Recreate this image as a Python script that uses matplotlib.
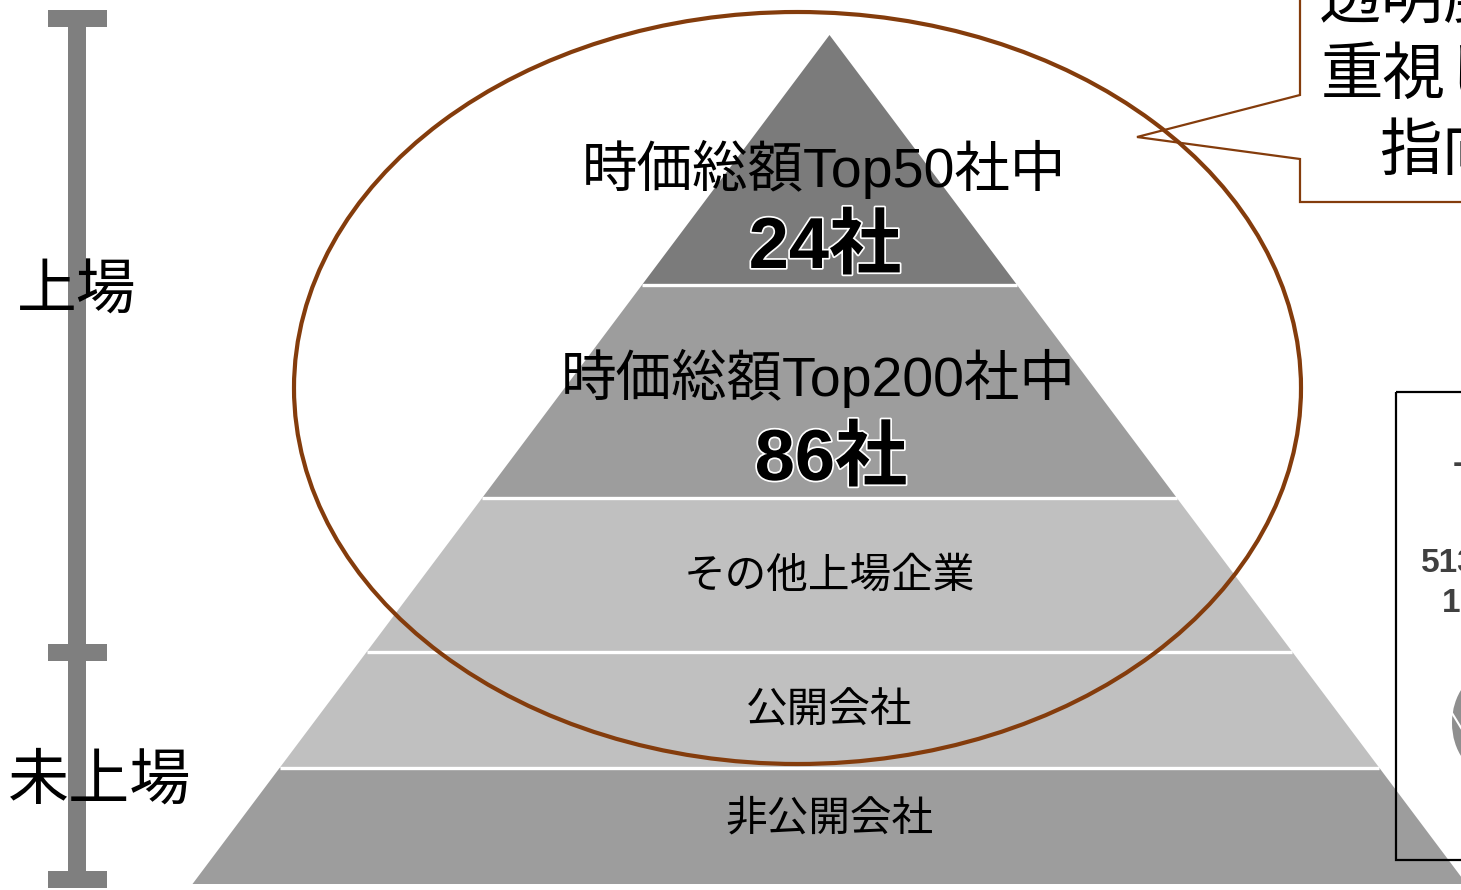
import matplotlib
matplotlib.use("Agg")
import matplotlib.pyplot as plt
from matplotlib.patches import Polygon, Rectangle, Ellipse, FancyBboxPatch
import matplotlib.patheffects as pe

# ---------------- data ----------------
layer_labels = ["時価総額Top50社中", "時価総額Top200社中", "その他上場企業", "公開会社", "非公開会社"]
layer_counts = ["24社", "86社", "", "", ""]
# layer boundaries as fraction of pyramid height (apex = 0, base = 1)
layer_bounds = [0.0, 0.2945, 0.5453, 0.7267, 0.8634, 1.0]
layer_colors = ["#7b7b7b", "#9d9d9d", "#c0c0c0", "#c0c0c0", "#9d9d9d"]
side_labels = ["上場", "未上場"]
callout_lines = ["透明度を", "重視した", "指向"]
box_lines = ["上場", "513", "1"]

# ---------------- figure ----------------
W, H = 1461, 890
fig = plt.figure(figsize=(W / 100, H / 100), dpi=100)
ax = fig.add_axes([0, 0, 1, 1])
ax.set_xlim(0, W)
ax.set_ylim(H, 0)
ax.axis("off")

MIX = ["Liberation Sans", "Noto Sans CJK JP"]
CJK = ["Noto Sans CJK JP", "DejaVu Sans"]

# pyramid geometry
apex_x, apex_y = 829.5, 35.0
base_y = 884.0
half_base = 637.0
ph = base_y - apex_y

def xy(f, side):
    y = apex_y + f * ph
    return apex_x + side * half_base * f, y

for i in range(len(layer_labels)):
    f0, f1 = layer_bounds[i], layer_bounds[i + 1]
    pts = [xy(f0, -1), xy(f0, 1), xy(f1, 1), xy(f1, -1)]
    ax.add_patch(Polygon(pts, closed=True, facecolor=layer_colors[i],
                         edgecolor="none", zorder=2))
# white separators
for f in layer_bounds[1:-1]:
    (xl, y), (xr, _) = xy(f, -1), xy(f, 1)
    ax.plot([xl, xr], [y, y], color="white", lw=2.4, zorder=3,
            solid_capstyle="butt")

# pyramid texts
label_pos = [(824, 169), (818, 378), (829, 577), (829, 712), (829, 820)]
label_size = [40, 40, 30, 30, 30]
for (x, y), lab, s in zip(label_pos, layer_labels, label_size):
    ax.text(x, y, lab, ha="center", va="center", fontsize=s,
            family=MIX, color="black", zorder=6)
count_pos = [(825, 249), (831, 461)]
for (x, y), c in zip(count_pos, [c for c in layer_counts if c]):
    ax.text(x, y, c, ha="center", va="center", fontsize=52,
            family=MIX, weight="bold", color="black", zorder=6,
            path_effects=[pe.withStroke(linewidth=2.5, foreground="white")])

# left scale bar
bar_col = "#7f7f7f"
ax.add_patch(Rectangle((68, 10), 18, 878, facecolor=bar_col, edgecolor="none", zorder=2))
for yc in (10, 644, 871):
    ax.add_patch(Rectangle((48, yc), 59, 17, facecolor=bar_col, edgecolor="none", zorder=2))
ax.text(77, 292, side_labels[0], ha="center", va="center", fontsize=43,
        family=CJK, color="black", zorder=6)
ax.text(100, 781, side_labels[1], ha="center", va="center", fontsize=44,
        family=CJK, color="black", zorder=6)

# callout
brown = "#843c0c"
callout = [(1300, -10), (1300, 95), (1137, 137), (1300, 159), (1300, 202),
           (1480, 202), (1480, -10)]
ax.add_patch(Polygon(callout, closed=True, facecolor="white", edgecolor=brown,
                     lw=1.6, zorder=4))
for (x, y), t in zip([(1319, 0), (1321, 76), (1379, 152)], callout_lines):
    ax.text(x, y, t, ha="left", va="center", fontsize=45, family=CJK,
            color="black", zorder=6)

# ellipse
ax.add_patch(Ellipse((797.5, 388), 1007, 752, facecolor="none",
                     edgecolor=brown, lw=3.0, zorder=5))

# right box
ax.add_patch(Rectangle((1396, 392), 100, 468, facecolor="none",
                       edgecolor="black", lw=1.6, zorder=5))
ax.text(1453, 456, box_lines[0], ha="left", va="center", fontsize=22,
        family=CJK, weight="bold", color="#404040", zorder=6)
ax.text(1421, 564, box_lines[1], ha="left", va="center", fontsize=24,
        family=MIX, weight="bold", color="#404040", zorder=6)
ax.text(1442, 603, box_lines[2], ha="left", va="center", fontsize=24,
        family=MIX, weight="bold", color="#404040", zorder=6)
ax.add_patch(FancyBboxPatch((1472, 692), 60, 62,
                            boxstyle="round,pad=0,rounding_size=20",
                            mutation_aspect=1, facecolor="#8f8f8f",
                            edgecolor="#8f8f8f", lw=0, zorder=4))
ax.add_patch(Ellipse((1490, 723), 76, 102, facecolor="#8f8f8f",
                     edgecolor="none", zorder=4))
ax.plot([1452, 1466], [713, 736], color="white", lw=1.5, zorder=4)

fig.savefig("out.png", dpi=100)
